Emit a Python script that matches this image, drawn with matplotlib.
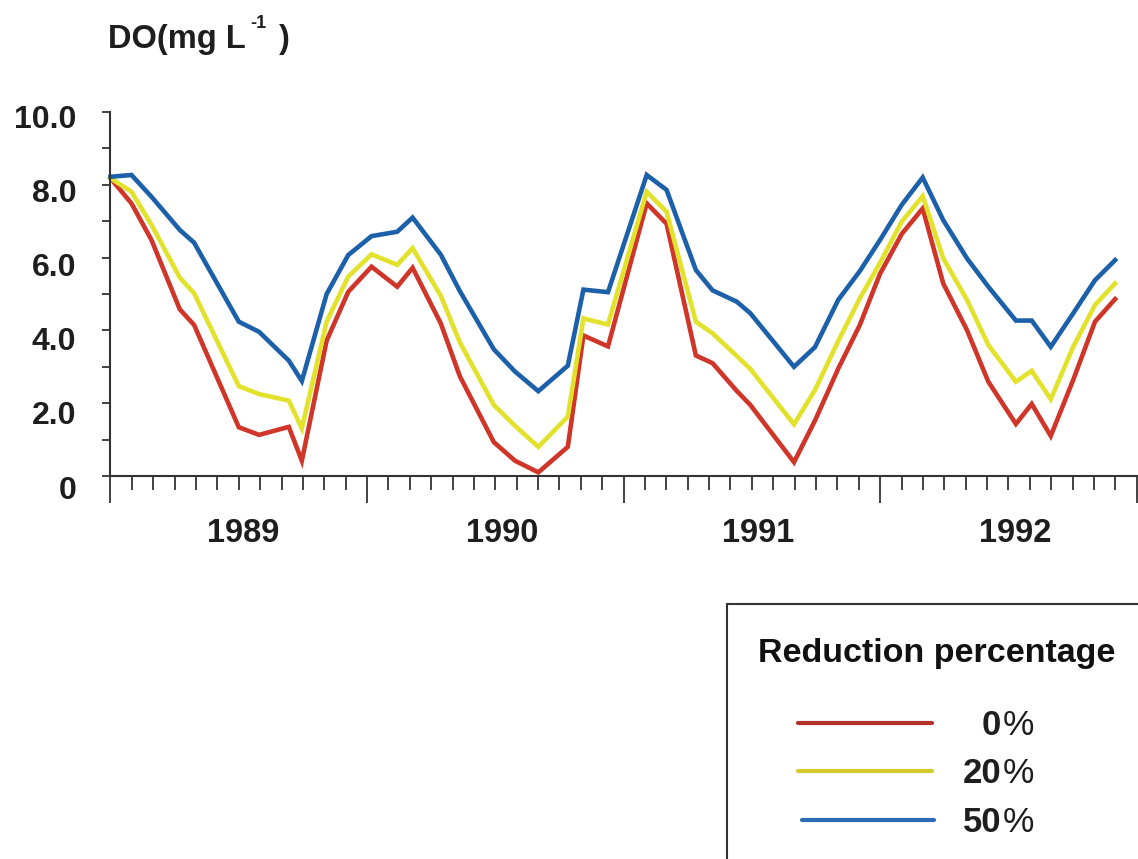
import matplotlib
matplotlib.use('Agg')
import matplotlib.pyplot as plt
from matplotlib.lines import Line2D
from matplotlib.patches import Rectangle
from matplotlib.transforms import ScaledTranslation

plt.rcParams['font.family'] = ['Liberation Sans', 'DejaVu Sans']

# months since the start of 1989 (sampling dates)
months = [0.0, 0.98, 1.92, 3.24, 3.91, 6.00, 6.95, 8.34, 8.95, 10.11,
          11.12, 12.21, 13.41, 14.13, 15.45, 16.34, 17.93, 18.92, 20.01, 21.39,
          22.12, 23.27, 25.08, 26.01, 27.38, 28.16, 29.29, 29.93, 31.97, 32.95,
          34.04, 35.05, 35.99, 37.01, 37.99, 38.95, 40.06, 41.06, 42.35, 43.09,
          43.98, 45.03, 46.05, 46.99]

# dissolved oxygen (mg/L) for each load reduction scenario
do_0 = [8.18, 7.49, 6.48, 4.58, 4.15, 1.34, 1.13, 1.35, 0.42, 3.72,
        5.06, 5.75, 5.20, 5.72, 4.19, 2.74, 0.93, 0.42, 0.10, 0.80,
        3.86, 3.56, 7.49, 6.93, 3.31, 3.10, 2.34, 1.95, 0.38, 1.52,
        2.95, 4.15, 5.55, 6.65, 7.35, 5.29, 4.01, 2.59, 1.43, 1.98,
        1.10, 2.64, 4.24, 4.86]
do_20 = [8.18, 7.81, 6.90, 5.45, 5.02, 2.47, 2.25, 2.07, 1.31, 4.24,
         5.48, 6.09, 5.80, 6.26, 4.95, 3.67, 1.95, 1.38, 0.80, 1.63,
         4.33, 4.16, 7.81, 7.26, 4.24, 3.92, 3.30, 2.94, 1.42, 2.36,
         3.71, 4.88, 5.85, 6.99, 7.69, 5.98, 4.84, 3.60, 2.59, 2.89,
         2.11, 3.55, 4.70, 5.29]
do_50 = [8.22, 8.27, 7.67, 6.76, 6.41, 4.24, 3.96, 3.17, 2.61, 5.00,
         6.07, 6.59, 6.71, 7.10, 6.08, 5.08, 3.48, 2.87, 2.33, 3.03,
         5.12, 5.05, 8.27, 7.86, 5.66, 5.10, 4.79, 4.47, 3.00, 3.54,
         4.84, 5.63, 6.48, 7.45, 8.20, 7.03, 5.98, 5.20, 4.27, 4.27,
         3.55, 4.47, 5.38, 5.93]

scenarios = ['0', '20', '50']
colors = ['#cf3528', '#e2e22c', '#1c60a9']
legend_colors = ['#b3302b', '#d2cc2c', '#2a6db5']

years = ['1989', '1990', '1991', '1992']
year_centers = [6.2, 18.3, 30.3, 42.3]
y_major = [0, 2, 4, 6, 8, 10]
y_labels = ['0', '2.0', '4.0', '6.0', '8.0', '10.0']

W, H = 1138, 859
fig = plt.figure(figsize=(W / 100, H / 100), dpi=100)
ax = fig.add_axes([110.5 / W, (H - 476) / H, (1136.7 - 110.5) / W, 364 / H])

for ys, c in zip([do_0, do_20, do_50], colors):
    ax.plot(months, ys, color=c, lw=3.3, solid_joinstyle='miter', clip_on=False)

ax.set_xlim(0, 48)
ax.set_ylim(0, 10)

for s in ['top', 'right']:
    ax.spines[s].set_visible(False)
for s in ['left', 'bottom']:
    ax.spines[s].set_color('#333333')
    ax.spines[s].set_linewidth(1.5)

# x axis: month ticks, longer ticks at year boundaries
ax.set_xticks(range(0, 49, 12))
ax.set_xticks(range(0, 49), minor=True)
ax.set_xticklabels([])
ax.tick_params(axis='x', which='major', length=19.5, width=1.2, color='#222222')
ax.tick_params(axis='x', which='minor', length=10, width=1.2, color='#222222')

# y axis
ax.set_yticks(y_major)
ax.set_yticks(range(1, 10, 2), minor=True)
ax.set_yticklabels(y_labels, fontsize=23, fontweight='bold', color='#1e1e1e')
ax.tick_params(axis='y', which='both', length=6, width=1.2, color='#222222', pad=18.5)
for v, lab in zip(y_major, ax.get_yticklabels()):
    dy = -(4.6 + (10 - v) * 0.65) / 100
    lab.set_transform(lab.get_transform() + ScaledTranslation(0, dy, fig.dpi_scale_trans))

for yr, xc in zip(years, year_centers):
    ax.text(xc, -0.157, yr, transform=ax.get_xaxis_transform(), ha='center', va='center',
            fontsize=23.5, fontweight='bold', color='#1e1e1e')

# axis title with superscript
fig.text(108 / W, 1 - 48 / H, 'DO(mg L', fontsize=23.5, fontweight='bold',
         color='#1e1e1e', va='baseline')
fig.text(250 / W, 1 - 28 / H, '-1', fontsize=13, fontweight='bold',
         color='#1e1e1e', va='baseline')
fig.text(279 / W, 1 - 48 / H, ')', fontsize=23.5, fontweight='bold',
         color='#1e1e1e', va='baseline')

# legend box
fig.patches.append(Rectangle((727 / W, -0.2), 0.6, 0.2 + 1 - 604 / H,
                             transform=fig.transFigure, fill=False,
                             edgecolor='#333333', lw=1.5))
fig.text(758 / W, 1 - 662 / H, 'Reduction percentage', fontsize=24.5,
         fontweight='bold', color='#111111', va='baseline')

line_y = [723, 771, 820]
line_x = [(798, 932), (798, 932), (802, 934)]
text_base = [735, 783, 832]
for lbl, c, ly, (x0, x1), tb in zip(scenarios, legend_colors, line_y, line_x, text_base):
    fig.add_artist(Line2D([x0 / W, x1 / W], [1 - ly / H, 1 - ly / H],
                          transform=fig.transFigure, color=c, lw=3,
                          solid_capstyle='round'))
    fig.text(1001 / W, 1 - tb / H, lbl, fontsize=25, fontweight='bold',
             color='#1e1e1e', ha='right', va='baseline')
    fig.text(1003 / W, 1 - tb / H, '%', fontsize=25.5, fontweight='normal',
             color='#1e1e1e', ha='left', va='baseline')

fig.savefig('out.png', dpi=100, facecolor='white')
